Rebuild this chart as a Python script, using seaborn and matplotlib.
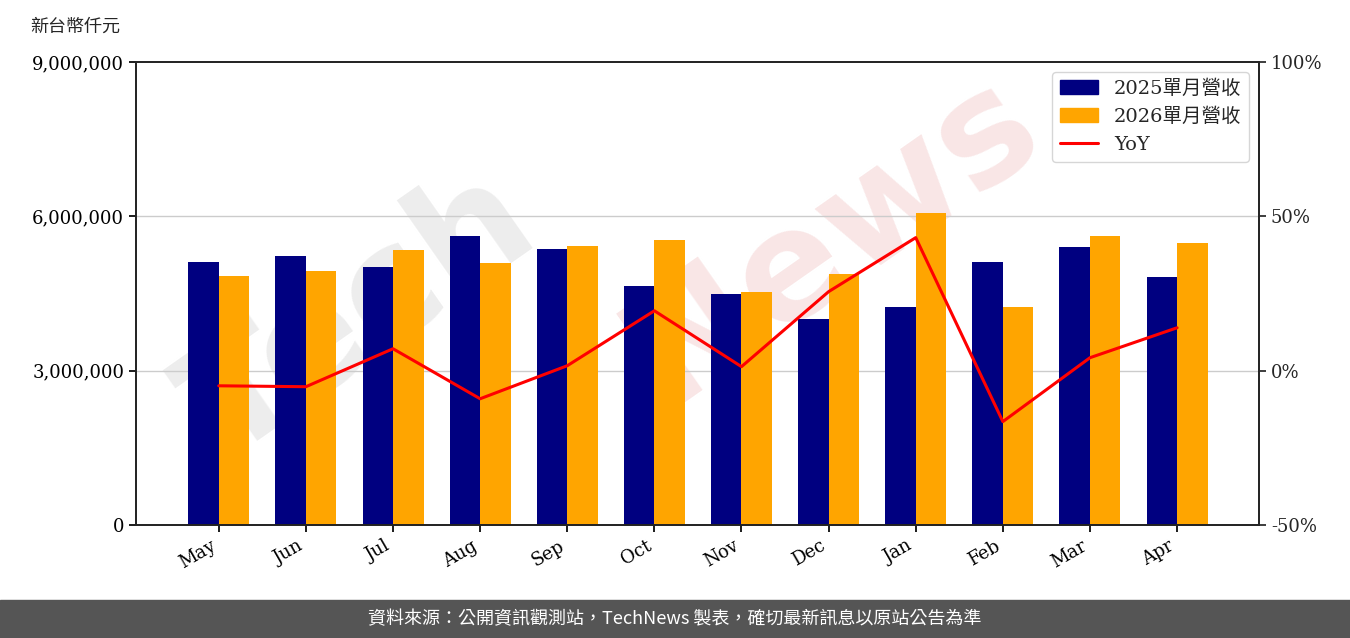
import matplotlib
matplotlib.use("Agg")
import matplotlib.pyplot as plt
import seaborn as sns
import pandas as pd
import numpy as np
from matplotlib.ticker import FuncFormatter, FixedLocator

months = ["May","Jun","Jul","Aug","Sep","Oct","Nov","Dec","Jan","Feb","Mar","Apr"]
rev2025 = [5110000,5230000,5020000,5620000,5370000,4650000,4490000,4000000,4240000,5110000,5400000,4820000]
rev2026 = [4840000,4940000,5350000,5090000,5420000,5540000,4530000,4880000,6070000,4240000,5620000,5480000]
yoy = [-4.9,-5.2,7.1,-9.1,1.6,19.4,1.3,25.6,43.1,-16.5,4.2,13.9]

sns.set_theme(style="white")
plt.rcParams['font.family'] = ['DejaVu Serif', 'Noto Sans CJK TC']

fig = plt.figure(figsize=(13.5, 6.38), dpi=100)
ax = fig.add_axes([136/1350, 1-525/638, (1259-136)/1350, (525-62)/638])

ax.text(0.2, 0.45, "Tech", transform=ax.transAxes, fontsize=110, rotation=35, color="#d8d8d8",
        alpha=0.45, ha="center", va="center", fontweight="bold", family=["DejaVu Sans"], zorder=0)
ax.text(0.62, 0.62, "News", transform=ax.transAxes, fontsize=110, rotation=35, color="#f2c8c8",
        alpha=0.45, ha="center", va="center", fontweight="bold", family=["DejaVu Sans"], zorder=0)

df = pd.DataFrame({"month": months*2,
                   "rev": rev2025+rev2026,
                   "series": ["2025單月營收"]*12 + ["2026單月營收"]*12})
sns.barplot(data=df, x="month", y="rev", hue="series", palette=["#000080", "#FFA500"],
            width=0.7, ax=ax, saturation=1, legend=False, linewidth=0, zorder=2)
ax.set_ylim(0, 9000000)
ax.set_xlim(-0.95, 11.94)
ax.yaxis.set_major_locator(FixedLocator([0,3000000,6000000,9000000]))
ax.yaxis.set_major_formatter(FuncFormatter(lambda v, p: f"{int(v):,}"))
for v in [3000000, 6000000]:
    ax.axhline(v, color="#cccccc", lw=1, zorder=1)
ax.set_xlabel(""); ax.set_ylabel("")
for s in ax.spines.values():
    s.set_color("black"); s.set_linewidth(1.2)
ax.tick_params(axis="both", labelsize=13, length=5, left=True, bottom=True, colors="black")
plt.setp(ax.get_xticklabels(), rotation=30, ha="right")

ax2 = ax.twinx()
sns.lineplot(x=np.arange(12), y=yoy, color="red", lw=2.2, ax=ax2)
ax2.set_ylim(-50, 100)
ax2.yaxis.set_major_locator(FixedLocator([-50,0,50,100]))
ax2.yaxis.set_major_formatter(FuncFormatter(lambda v, p: f"{int(v)}%"))
ax2.tick_params(axis="y", labelsize=13, length=5, right=True)
ax2.set_xlim(-0.95, 11.94)

from matplotlib.patches import Patch
from matplotlib.lines import Line2D
handles = [Patch(color="#000080", label="2025單月營收"),
           Patch(color="#FFA500", label="2026單月營收"),
           Line2D([0],[0], color="red", lw=2.2, label="YoY")]
ax2.legend(handles=handles, loc="upper right", fontsize=14, frameon=True, edgecolor="#cccccc")

fig.text(30/1350, 1-27/638, "新台幣仟元", fontsize=13, va="center")

fig.patches.append(matplotlib.patches.Rectangle((0, 0), 1, 38/638, transform=fig.transFigure,
                                                color="#555555", zorder=-1))
fig.text(0.5, 19/638, "資料來源：公開資訊觀測站，TechNews 製表，確切最新訊息以原站公告為準",
         color="white", fontsize=13, ha="center", va="center", family=["Noto Sans CJK TC"])

fig.savefig("out.png", dpi=100)
